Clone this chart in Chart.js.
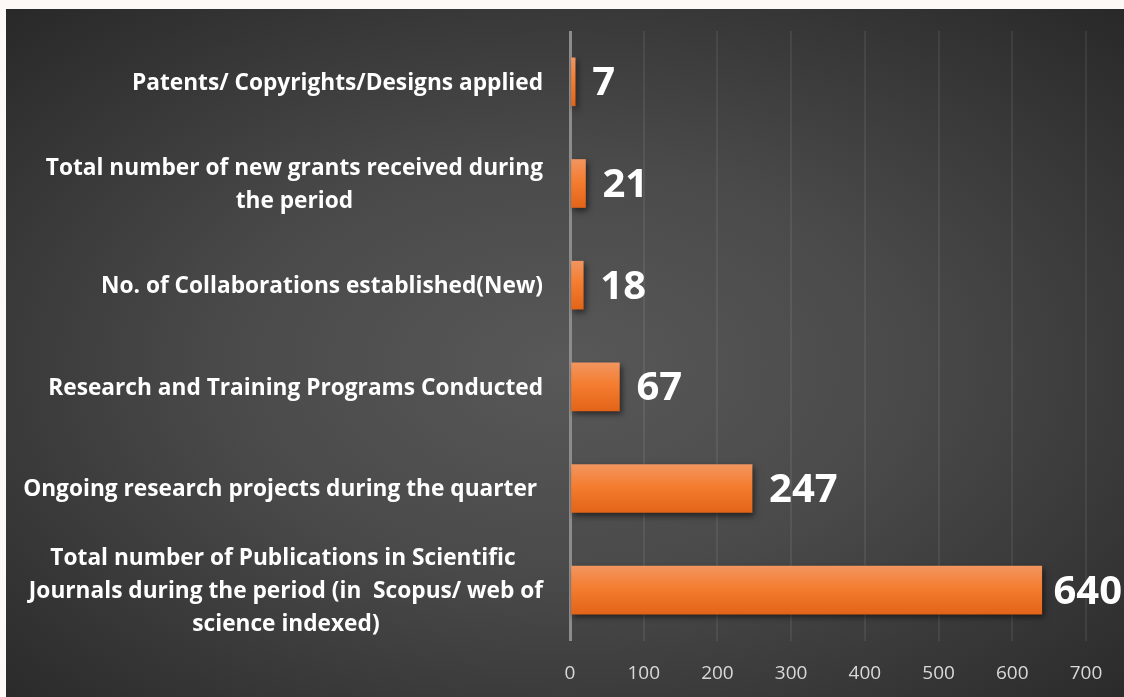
<!DOCTYPE html>
<html lang="en">
<head>
<meta charset="utf-8" />
<title>Research output</title>
<script src="https://cdn.jsdelivr.net/npm/chart.js"></script>
<style>
  html, body { margin: 0; padding: 0; background: #fdf9f6; }
  #panel {
    position: absolute; left: 6px; top: 9px; width: 1118px; height: 688px;
    background: radial-gradient(ellipse 75% 75% at 50% 52%, #585858 0%, #4a4a4a 40%, #262626 100%);
  }
</style>
</head>
<body>
<div id="panel"><canvas id="grafico" width="1118" height="688"></canvas></div>
<script>
// categories top to bottom, each label already split in lines
const categorias = [
  ["Patents/ Copyrights/Designs applied"],
  ["Total number of new grants received during", "the period"],
  ["No. of Collaborations established(New)"],
  ["Research and Training Programs Conducted"],
  ["Ongoing research projects during the quarter "],
  ["Total number of Publications in Scientific ", "Journals during the period (in  Scopus/ web of", "science indexed)"]
];
const valores = [7, 21, 18, 67, 247, 640];
const ejeMin = 0;
const ejeMax = 700;
const ejePaso = 100;

const fuente = "'Open Sans', Lato, sans-serif";

// bar gradient + shadow, set once the bars have their positions
const sombra = {
  id: 'sombra',
  beforeDatasetsDraw(chart) {
    const ctx = chart.ctx;
    const meta = chart.getDatasetMeta(0);
    meta.data.forEach(bar => {
      const h = bar.height / 2;
      const g = ctx.createLinearGradient(0, bar.y - h, 0, bar.y + h);
      g.addColorStop(0, '#f2955f');
      g.addColorStop(0.45, '#f47d30');
      g.addColorStop(1, '#e36418');
      // options can be shared between bars, so give each its own copy
      bar.options = Object.assign({}, bar.options, { backgroundColor: g });
    });
    ctx.save();
    ctx.shadowColor = 'rgba(0,0,0,0.55)';
    ctx.shadowBlur = 6;
    ctx.shadowOffsetX = 2;
    ctx.shadowOffsetY = 3;
  },
  afterDatasetsDraw(chart) {
    chart.ctx.restore();
  }
};

// value labels at the end of each bar
const etiquetas = {
  id: 'etiquetas',
  afterDatasetsDraw(chart) {
    const ctx = chart.ctx;
    const meta = chart.getDatasetMeta(0);
    ctx.save();
    ctx.font = "bold 40px " + fuente;
    ctx.fillStyle = '#ffffff';
    ctx.textBaseline = 'middle';
    ctx.textAlign = 'left';
    meta.data.forEach((bar, i) => {
      const txt = String(valores[i]);
      const w = ctx.measureText(txt).width;
      let x = bar.x + 17;
      if (x + w > chart.width - 2) x = chart.width - 2 - w;
      ctx.fillText(txt, x, bar.y + 2);
    });
    ctx.restore();
  }
};

// category labels: block right aligned, lines centred inside the block
const categoriasEje = {
  id: 'categoriasEje',
  afterDraw(chart) {
    const ctx = chart.ctx;
    const y = chart.scales.y;
    const derecha = 537;
    const interlinea = 33;
    ctx.save();
    ctx.font = "bold 22.7px " + fuente;
    ctx.fillStyle = '#ffffff';
    ctx.textBaseline = 'middle';
    ctx.textAlign = 'center';
    categorias.forEach((lineas, i) => {
      const ancho = Math.max(...lineas.map(l => ctx.measureText(l).width));
      const cx = derecha - ancho / 2;
      const cy = y.getPixelForValue(i) + 1.5;
      const y0 = cy - (lineas.length - 1) * interlinea / 2;
      lineas.forEach((l, k) => ctx.fillText(l, cx, y0 + k * interlinea));
    });
    ctx.restore();
  }
};

new Chart(document.getElementById('grafico'), {
  type: 'bar',
  data: {
    labels: categorias.map(c => c.join(' ')),
    datasets: [{
      data: valores,
      backgroundColor: '#f47d30',
      borderWidth: 0,
      barThickness: 48
    }]
  },
  options: {
    indexAxis: 'y',
    responsive: false,
    animation: false,
    layout: { padding: { top: 22, right: 38, left: 0, bottom: 0 } },
    plugins: { legend: { display: false }, tooltip: { enabled: false } },
    scales: {
      x: {
        min: ejeMin,
        max: ejeMax,
        ticks: {
          stepSize: ejePaso,
          color: '#d9d9d9',
          font: { family: fuente, size: 19 },
          padding: 21
        },
        grid: {
          drawTicks: false,
          color: c => c.tick && c.tick.value === 0 ? '#8c8c8c' : 'rgba(255,255,255,0.07)',
          lineWidth: c => c.tick && c.tick.value === 0 ? 3 : 2
        },
        border: { display: false },
        afterFit(scale) { scale.height = 56; }
      },
      y: {
        ticks: { display: false },
        grid: { display: false },
        border: { display: false },
        afterFit(scale) { scale.width = 564; }
      }
    }
  },
  plugins: [sombra, etiquetas, categoriasEje]
});
</script>
</body>
</html>
